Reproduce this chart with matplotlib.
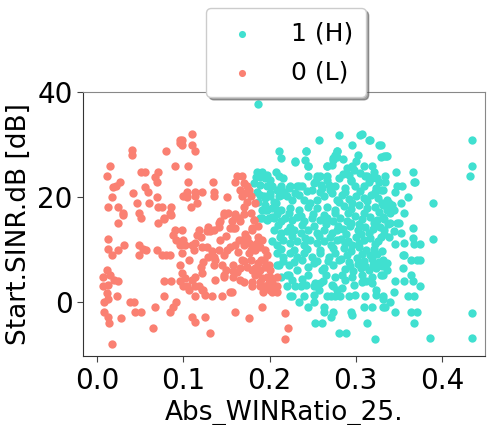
import matplotlib
matplotlib.use("Agg")
import matplotlib.pyplot as plt

# class 0 (L) points: (Abs_WINRatio_25., Start.SINR.dB)
low_x = [0.040, 0.040, 0.080, 0.096, 0.096, 0.015, 0.011, 0.090, 0.051, 0.055, 0.071, 0.067, 0.069,
         0.026, 0.022, 0.018, 0.055, 0.059, 0.042, 0.017, 0.069, 0.046, 0.060, 0.013, 0.024, 0.030,
         0.048, 0.071, 0.075, 0.086, 0.085, 0.100, 0.077,
         0.030, 0.051, 0.024, 0.070, 0.077, 0.086, 0.090, 0.088, 0.092, 0.096, 0.012, 0.013, 0.017,
         0.024, 0.031, 0.049, 0.048, 0.053, 0.057, 0.069, 0.075, 0.080, 0.085, 0.096, 0.011, 0.007,
         0.015, 0.019, 0.024, 0.013, 0.007, 0.011, 0.013, 0.008, 0.023, 0.038, 0.043, 0.077, 0.086,
         0.096, 0.078, 0.092, 0.088, 0.085, 0.067, 0.008, 0.012, 0.014, 0.044, 0.051, 0.028, 0.065,
         0.017,
         0.110, 0.098, 0.098, 0.110, 0.113, 0.105, 0.105, 0.134, 0.162, 0.168, 0.160, 0.170, 0.174,
         0.166, 0.172, 0.168, 0.176, 0.178, 0.174, 0.104, 0.114, 0.122, 0.104, 0.114, 0.116, 0.135,
         0.135, 0.109, 0.151, 0.183, 0.147, 0.152, 0.160, 0.170, 0.170, 0.178, 0.182,
         0.180, 0.164, 0.166, 0.160, 0.154, 0.156, 0.143, 0.141, 0.135, 0.129, 0.127, 0.118, 0.116,
         0.120, 0.098, 0.100, 0.102, 0.110, 0.112, 0.098, 0.106, 0.114, 0.122, 0.127, 0.133, 0.135,
         0.129, 0.123, 0.120, 0.122, 0.114, 0.110, 0.102, 0.098, 0.100, 0.106, 0.114, 0.123, 0.125,
         0.114, 0.141, 0.147, 0.151, 0.154, 0.160, 0.164, 0.168, 0.174, 0.170, 0.176, 0.180, 0.185,
         0.187, 0.191, 0.178, 0.183, 0.189, 0.195, 0.197, 0.193, 0.187, 0.189, 0.195, 0.199, 0.201,
         0.197, 0.201, 0.203, 0.191, 0.183, 0.180, 0.189, 0.195, 0.199, 0.201, 0.205, 0.137, 0.135,
         0.145, 0.149, 0.147, 0.158, 0.158, 0.162, 0.168, 0.166, 0.174, 0.178, 0.180, 0.170, 0.180,
         0.137, 0.145, 0.156, 0.110, 0.114, 0.125, 0.131, 0.160, 0.176, 0.191, 0.131, 0.141, 0.158,
         0.160, 0.180, 0.182, 0.147, 0.104, 0.118, 0.122, 0.133, 0.147, 0.154, 0.166, 0.189, 0.203,
         0.197, 0.209, 0.209, 0.209, 0.218, 0.221, 0.218,
         0.172, 0.186, 0.163, 0.176, 0.190, 0.170, 0.183, 0.157, 0.192, 0.186, 0.150, 0.142]
low_y = [29.0, 27.9, 28.8, 30.9, 30.3, 25.8, 23.9, 25.8, 24.8, 24.8, 24.8, 23.8, 22.9,
         22.9, 22.0, 21.9, 21.9, 21.0, 20.8, 19.9, 19.9, 18.9, 18.9, 18.0, 18.0, 16.9,
         17.0, 18.0, 18.0, 18.0, 16.9, 20.1, 16.0,
         16.6, 15.9, 15.0, 15.0, 15.8, 16.6, 13.7, 12.7, 11.8, 10.8, 12.0, 10.0, 8.9,
         9.9, 10.8, 10.8, 8.9, 10.1, 9.9, 9.9, 8.9, 8.9, 8.9, 7.0, 6.1, 4.8,
         5.1, 4.1, 3.9, 3.2, 2.9, 1.6, 0.6, -0.1, 1.0, -0.1, -0.1, 4.0, 4.0,
         4.0, 1.0, -0.1, -1.1, -2.0, -1.0, -1.9, -2.9, -4.1, -2.0, -2.0, -3.1, -5.1,
         -8.0,
         32.0, 30.9, 29.9, 29.9, 28.8, 25.8, 22.9, 22.9, 23.9, 23.9, 22.9, 22.6, 22.0,
         21.3, 20.7, 20.1, 21.3, 20.1, 19.1, 21.0, 21.0, 21.0, 19.9, 20.1, 18.8, 21.0,
         20.1, 18.0, 19.9, 18.8, 16.9, 16.9, 16.8, 18.0, 16.8, 16.9, 15.6,
         13.7, 15.9, 15.3, 14.0, 14.0, 15.3, 15.3, 14.3, 13.7, 14.3, 13.4, 13.7, 12.7,
         12.3, 13.7, 11.8, 10.8, 10.8, 9.9, 9.2, 8.0, 11.2, 10.5, 10.5, 9.6, 8.6,
         8.6, 7.6, 6.7, 5.4, 4.8, 4.1, 4.5, 5.4, 2.9, 2.2, 2.9, 2.2, 1.3,
         1.0, 9.9, 8.9, 9.9, 10.5, 10.8, 11.8, 11.8, 12.1, 10.8, 11.2, 10.8, 11.2,
         12.4, 11.8, 9.9, 9.9, 10.5, 9.9, 8.9, 8.0, 7.3, 6.1, 6.7, 7.0, 6.1,
         4.8, 4.8, 3.8, 4.5, 5.1, 2.9, 2.9, 2.9, 3.5, 2.2, 2.9, 8.0, 7.0,
         7.0, 6.1, 4.8, 7.0, 4.8, 5.7, 8.0, 6.4, 6.7, 8.0, 6.1, 3.8, 3.8,
         4.1, 1.0, 1.9, -2.9, -3.8, -2.9, -6.0, -2.0, -3.1, -1.0, 13.4, 15.0, 14.0,
         16.2, 14.0, 15.6, 16.6, 2.9, 2.9, 2.2, 1.0, 5.1, 1.9, 4.1, 3.8, 1.9,
         2.9, 4.8, 2.9, 1.9, -2.1, -5.1, -7.1,
         13.0, 14.5, 9.5, 9.2, 7.9, 7.8, 6.5, 5.8, 1.8, 5.6, 12.5, 11.7]

# class 1 (H) points
high_x = [0.186, 0.211, 0.185, 0.191, 0.184, 0.189, 0.195, 0.201, 0.207, 0.211, 0.182, 0.189, 0.197,
          0.203, 0.209, 0.185, 0.193, 0.201, 0.187, 0.195, 0.207, 0.211, 0.191, 0.197, 0.203, 0.209,
          0.189, 0.199,
          0.280, 0.307, 0.316, 0.257, 0.329, 0.296, 0.213, 0.242, 0.278, 0.303, 0.329, 0.230, 0.241,
          0.245, 0.274, 0.276, 0.267, 0.272, 0.296, 0.298, 0.319, 0.321, 0.255, 0.253, 0.267, 0.280,
          0.292, 0.294, 0.311, 0.319, 0.327, 0.213, 0.222, 0.234, 0.249, 0.261, 0.276, 0.288, 0.299,
          0.309, 0.323, 0.331,
          0.211, 0.222, 0.222, 0.213, 0.245, 0.261, 0.265, 0.276, 0.284, 0.296, 0.307, 0.319, 0.329,
          0.220, 0.230, 0.236, 0.253, 0.257, 0.274, 0.284, 0.298, 0.307, 0.319, 0.323, 0.226, 0.234,
          0.244, 0.251, 0.263, 0.271, 0.276, 0.282, 0.292, 0.299, 0.311, 0.323, 0.331, 0.309, 0.319,
          0.331, 0.263, 0.273, 0.271, 0.294, 0.296, 0.253, 0.261, 0.313, 0.280, 0.289, 0.322,
          0.435, 0.435, 0.433, 0.435, 0.435, 0.386, 0.389, 0.389, 0.366, 0.367, 0.347, 0.334, 0.334,
          0.333, 0.336, 0.348, 0.354, 0.346, 0.360, 0.352, 0.356, 0.344, 0.338, 0.340, 0.340, 0.348,
          0.352, 0.356, 0.366, 0.366, 0.375, 0.367, 0.346, 0.356, 0.364, 0.371, 0.336, 0.336, 0.331,
          0.346, 0.356, 0.366, 0.364, 0.375, 0.344, 0.360, 0.367, 0.331, 0.340, 0.334, 0.346, 0.364,
          0.371, 0.367, 0.329, 0.333, 0.338, 0.344, 0.336, 0.342, 0.336, 0.329, 0.331,
          0.305, 0.315, 0.327, 0.278, 0.335, 0.274, 0.313, 0.369, 0.350, 0.355, 0.374, 0.331, 0.333,
          0.355,
          0.242, 0.230, 0.244, 0.267, 0.278, 0.197, 0.216, 0.224, 0.232, 0.238, 0.251, 0.255, 0.259,
          0.267, 0.269, 0.189, 0.195, 0.201, 0.205, 0.213, 0.220, 0.226, 0.234, 0.240, 0.247, 0.255,
          0.263, 0.272, 0.278, 0.191, 0.197, 0.205, 0.213, 0.218, 0.226, 0.232, 0.240, 0.249, 0.259,
          0.267, 0.274, 0.195, 0.203, 0.213, 0.224, 0.234, 0.244, 0.255, 0.267, 0.276, 0.205, 0.213,
          0.220, 0.228, 0.236, 0.245, 0.255, 0.263, 0.272, 0.278, 0.203, 0.209, 0.216, 0.224, 0.232,
          0.240, 0.247, 0.255, 0.263, 0.271, 0.278, 0.209, 0.216, 0.224, 0.232, 0.240, 0.249, 0.259,
          0.269, 0.276, 0.209, 0.220, 0.232, 0.244, 0.251, 0.263, 0.274, 0.242, 0.251, 0.259, 0.272,
          0.278, 0.224, 0.240, 0.251, 0.267,
          0.284, 0.292, 0.300, 0.309, 0.318, 0.326, 0.286, 0.295, 0.304, 0.313, 0.322, 0.331, 0.282,
          0.290, 0.299, 0.307, 0.316, 0.325, 0.333, 0.285, 0.293, 0.302, 0.311, 0.320, 0.328, 0.283,
          0.291, 0.300, 0.309, 0.317, 0.326, 0.286, 0.295, 0.304, 0.312, 0.321, 0.330, 0.283, 0.292,
          0.301, 0.310, 0.319, 0.327, 0.287, 0.297, 0.306, 0.315, 0.324, 0.285, 0.305, 0.315, 0.290,
          0.217, 0.229, 0.243, 0.258, 0.270, 0.209, 0.222, 0.236, 0.250, 0.263, 0.276, 0.210, 0.224,
          0.238, 0.251, 0.265, 0.279, 0.212, 0.226, 0.241, 0.257, 0.270, 0.213, 0.228, 0.243, 0.258,
          0.273, 0.215, 0.228, 0.238, 0.255, 0.268, 0.280, 0.226, 0.238, 0.262, 0.287, 0.312,
          0.288, 0.305, 0.322, 0.280, 0.296, 0.313, 0.330, 0.291, 0.309, 0.327, 0.295, 0.304, 0.321,
          0.337, 0.289, 0.306, 0.315, 0.333, 0.296, 0.304, 0.322, 0.287, 0.290, 0.307, 0.316, 0.325,
          0.293, 0.302, 0.311, 0.320, 0.330, 0.295, 0.325, 0.260, 0.245, 0.300, 0.310, 0.285]
high_y = [37.8, 28.7, 24.8, 24.8, 23.8, 23.8, 23.6, 23.2, 24.8, 23.9, 22.6, 22.3, 22.0,
          22.0, 21.3, 21.0, 20.1, 20.1, 19.1, 18.5, 18.8, 20.1, 17.5, 17.5, 16.2, 17.5,
          15.9, 15.9,
          31.8, 32.0, 30.9, 30.9, 29.9, 29.9, 27.5, 28.8, 28.8, 28.0, 27.7, 26.9, 27.1,
          25.8, 27.4, 28.0, 25.8, 26.1, 25.8, 25.2, 25.9, 24.8, 23.9, 22.9, 23.9, 23.6,
          24.2, 23.2, 23.9, 23.6, 22.9, 22.0, 21.7, 22.0, 21.3, 21.7, 22.0, 21.7, 22.0,
          22.0, 21.7, 21.3,
          7.0, 7.0, 5.1, 4.8, 5.1, 6.1, 5.1, 4.8, 5.1, 4.8, 5.1, 4.8, 5.1,
          2.9, 2.9, 2.9, 3.5, 2.2, 3.0, 2.6, 3.2, 3.8, 3.5, 2.2, 1.0, -0.1,
          -1.0, 0.0, -1.0, 1.0, 1.0, 1.0, 1.0, 1.3, 1.0, 1.3, 0.6, -1.0, -1.0,
          -1.0, -1.9, -1.9, -2.9, -1.9, -2.5, -4.1, -4.1, -4.1, -6.0, -6.0, -7.1,
          30.9, 25.8, 23.9, -2.1, -7.0, -7.0, 18.8, 12.0, 24.8, 22.9, 24.8, 24.0, 22.9,
          27.8, 27.8, 22.0, 22.0, 21.0, 19.9, 18.8, 16.9, 17.5, 18.8, 16.9, 15.0, 15.0,
          13.1, 11.2, 14.0, 12.1, 11.0, 11.0, 11.0, 8.9, 8.0, 8.0, 7.3, 6.1, 5.1,
          4.0, 4.0, 4.0, 5.1, 2.9, 1.9, 1.0, 1.0, 1.0, 0.0, -1.1, -2.0, -2.0,
          -2.0, -4.1, 12.4, 13.7, 12.4, 13.4, 19.4, 18.5, 17.5, 21.3, 16.2,
          31.8, 30.8, 29.9, 28.8, 27.8, 27.1, 23.9, 22.9, 15.0, 8.9, 8.0, 8.0, 7.0,
          6.4,
          28.7, 26.7, 25.8, 25.8, 27.7, 24.2, 23.6, 22.0, 22.0, 22.0, 22.6, 23.6, 23.9,
          23.2, 22.3, 20.4, 19.8, 20.7, 19.1, 20.4, 20.1, 19.4, 20.4, 19.4, 18.8, 19.4,
          20.1, 20.7, 19.4, 15.9, 15.6, 15.9, 15.3, 15.9, 15.6, 16.2, 15.3, 15.9, 15.6,
          15.9, 15.3, 17.5, 17.8, 17.5, 17.8, 17.5, 18.1, 17.8, 18.1, 17.5, 13.7, 13.1,
          13.4, 13.7, 13.1, 13.7, 13.1, 13.7, 13.1, 13.7, 11.5, 10.8, 11.8, 11.2, 11.5,
          10.8, 11.8, 11.2, 11.5, 10.8, 11.8, 9.2, 8.6, 9.2, 8.6, 9.2, 8.6, 9.2,
          8.6, 9.2, 7.0, 5.1, 6.1, 6.7, 7.3, 6.4, 7.0, 3.2, 2.9, 3.5, 3.2,
          2.2, 1.0, 1.0, 1.3, 1.0,
          20.4, 19.6, 20.2, 19.8, 20.4, 19.7, 18.2, 17.6, 18.4, 17.8, 18.0, 18.5, 16.0,
          15.4, 16.3, 15.7, 16.1, 15.5, 15.8, 13.9, 14.4, 13.6, 14.2, 13.8, 14.3, 12.0,
          11.5, 12.3, 11.8, 12.1, 11.6, 10.2, 9.6, 10.4, 9.8, 10.1, 9.7, 8.1, 7.6,
          8.3, 7.8, 8.2, 7.5, 6.3, 5.8, 6.5, 6.0, 6.4, 24.3, 24.6, 22.8, 25.6,
          21.0, 20.8, 21.2, 20.9, 21.3, 16.7, 16.9, 16.4, 16.8, 16.6, 16.9, 14.6, 14.3,
          14.7, 14.4, 14.8, 14.5, 12.3, 12.5, 12.2, 12.6, 12.3, 10.0, 9.8, 10.1, 9.9,
          10.2, 7.8, 7.6, 8.0, 7.8, 7.7, 7.9, 4.1, 4.4, 4.0, 4.2, 3.9,
          21.0, 21.1, 20.9, 19.0, 18.9, 19.2, 18.9, 16.9, 17.0, 17.1, 15.0, 14.9, 15.1,
          14.9, 13.0, 12.9, 13.1, 12.9, 10.9, 11.1, 11.0, 11.2, 8.9, 9.0, 8.9, 9.1,
          6.9, 7.1, 6.9, 7.0, 6.8, 23.1, 23.6, 22.2, 24.0, 26.8, 25.9, 27.2]

labels = ["1 (H)", "0 (L)"]
colors = ["#40E0D0", "#FA8072"]

fig = plt.figure(figsize=(4.89, 4.25), dpi=100)
ax = fig.add_axes([0.170, 0.162, 0.822, 0.622])
ax.scatter(high_x, high_y, s=36, c=colors[0], label=labels[0], linewidths=0)
ax.scatter(low_x, low_y, s=36, c=colors[1], label=labels[1], linewidths=0)

ax.set_xlim(-0.0163, 0.450)
ax.set_ylim(-10.4, 40.05)
ax.set_xticks([0.0, 0.1, 0.2, 0.3, 0.4])
ax.set_yticks([0, 20, 40])
ax.tick_params(labelsize=20, length=4, color="#444444")
ax.set_xlabel("Abs_WINRatio_25.", fontsize=19)
ax.set_ylabel("Start.SINR.dB [dB]", fontsize=19)
for side in ["left", "bottom"]:
    ax.spines[side].set_color("#333333")
for side in ["top", "right"]:
    ax.spines[side].set_color("#888888")

leg = ax.legend(loc="lower center", bbox_to_anchor=(0.505, 0.98), fontsize=18,
                shadow=True, fancybox=True, markerscale=0.85, handletextpad=1.05,
                handlelength=1.8, borderpad=0.52, labelspacing=0.6, borderaxespad=0.0,
                framealpha=1.0)
fig.savefig("out.png", dpi=100)
